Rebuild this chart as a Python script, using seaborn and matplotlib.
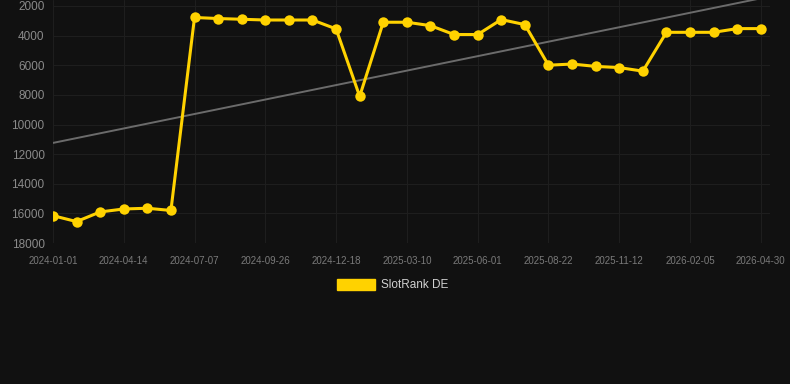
import numpy as np
import pandas as pd
import seaborn as sns
import matplotlib.pyplot as plt
from matplotlib.patches import Patch

# rank values, one point per sample (31 samples)
ranks = [16150, 16550, 15900, 15700, 15650, 15800, 2780, 2850, 2900, 2950,
         2950, 2950, 3550, 8100, 3100, 3100, 3330, 3930, 3930, 2920,
         3260, 6000, 5920, 6080, 6160, 6400, 3780, 3780, 3780, 3530, 3530]
tick_labels = ['2024-01-01', '2024-04-14', '2024-07-07', '2024-09-26', '2024-12-18',
               '2025-03-10', '2025-06-01', '2025-08-22', '2025-11-12', '2026-02-05',
               '2026-04-30']
y_ticks = [2000, 4000, 6000, 8000, 10000, 12000, 14000, 16000, 18000]
series_name = 'SlotRank DE'

bg = '#111111'
gold = '#FFD200'

df = pd.DataFrame({'idx': np.arange(len(ranks)), 'rank': ranks})
# straight trend line fitted through the ranks
slope, intercept = np.polyfit(df['idx'], df['rank'], 1)
df['trend'] = intercept + slope * df['idx']

sns.set_theme(style='dark')
plt.rcParams['font.family'] = ['Liberation Sans', 'DejaVu Sans']

fig = plt.figure(figsize=(7.9, 3.84), dpi=100, facecolor=bg)
ax = fig.add_axes([0.067, 0.367, 0.908, 0.633])
ax.set_facecolor(bg)

sns.lineplot(data=df, x='idx', y='trend', ax=ax, color='#6b6b6b', linewidth=1.4)
sns.lineplot(data=df, x='idx', y='rank', ax=ax, color=gold, linewidth=2.2,
             marker='o', markersize=7.5, markeredgewidth=0, zorder=3)

ax.set_xlim(0, 30.4)
ax.set_ylim(18000, 1600)
ax.set_yticks(y_ticks)
ax.set_yticklabels([str(v) for v in y_ticks], color='#8a8a8a', fontsize=8.5)
ax.set_xticks(np.arange(0, len(ranks), 3))
ax.set_xticklabels(tick_labels, color='#7a7a7a', fontsize=7)
ax.tick_params(axis='both', length=0, pad=6)
ax.tick_params(axis='x', pad=9)
ax.grid(True, color='#1e1e1e', linewidth=0.8)
ax.set_xlabel('')
ax.set_ylabel('')
for s in ax.spines.values():
    s.set_visible(False)

handles = [Patch(facecolor=gold, edgecolor=gold)]
leg = fig.legend(handles, [series_name], loc='center', bbox_to_anchor=(0.497, 0.258),
                 frameon=False, fontsize=8.5, handlelength=3.3, handleheight=1.1,
                 handletextpad=0.5)
for t in leg.get_texts():
    t.set_color('#d0d0d0')

fig.savefig('out.png', dpi=100, facecolor=bg)
